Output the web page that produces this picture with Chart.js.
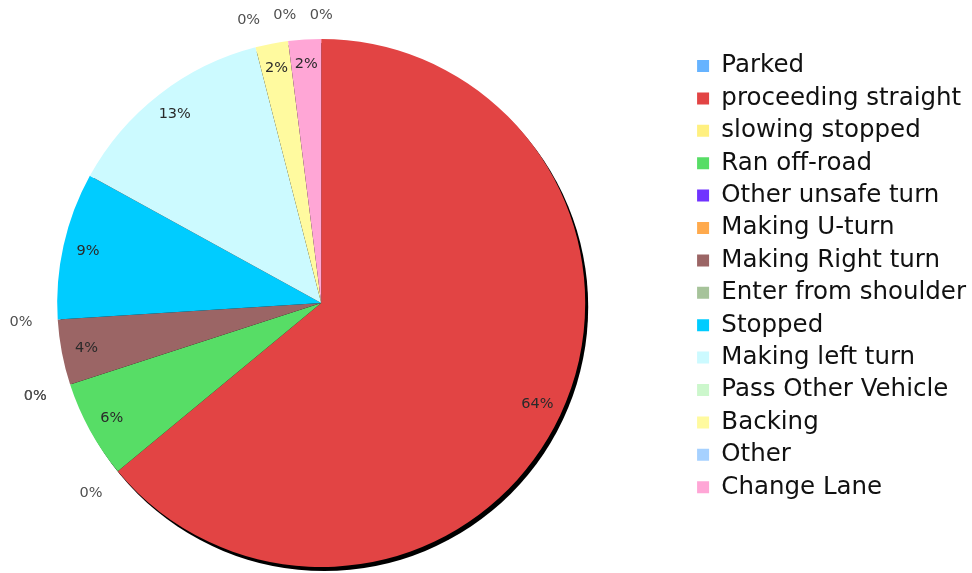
<!DOCTYPE html>
<html>
<head>
<meta charset="utf-8">
<script src="https://cdn.jsdelivr.net/npm/chart.js@4"></script>
<style>
  html, body { margin: 0; padding: 0; background: #fff; }
  #wrap { width: 972px; height: 573px; position: relative; }
</style>
</head>
<body>
<div id="wrap"><canvas id="pieCanvas"></canvas></div>
<script>
// categories in legend order (pie runs clockwise from 12 o'clock)
const categories = [
  'Parked', 'proceeding straight', 'slowing stopped', 'Ran off-road',
  'Other unsafe turn', 'Making U-turn', 'Making Right turn', 'Enter from shoulder',
  'Stopped', 'Making left turn', 'Pass Other Vehicle', 'Backing', 'Other', 'Change Lane'
];
const shares = [0, 64, 0, 6, 0, 0, 4, 0, 9, 13, 0, 2, 0, 2];
const sliceColors = [
  '#66b3ff', '#e24444', '#fff080', '#57dd66',
  '#7033ff', '#ffaa4d', '#9b6565', '#a6c39a',
  '#00ccff', '#ccfaff', '#ccf7cc', '#fffa9f', '#a6d1ff', '#ffa6d6'
];

const FONT = 'DejaVu Sans, Verdana, sans-serif';

// Dark drop shadow behind the pie (offset down/right)
const pieShadow = {
  id: 'pieShadow',
  beforeDatasetsDraw(chart) {
    const arc = chart.getDatasetMeta(0).data[0];
    if (!arc) return;
    const { x, y, outerRadius } = arc.getProps(['x', 'y', 'outerRadius'], true);
    const ctx = chart.ctx;
    ctx.save();
    ctx.fillStyle = '#000';
    ctx.beginPath();
    ctx.arc(x + 3, y + 4, outerRadius, 0, Math.PI * 2);
    ctx.fill();
    ctx.restore();
  }
};

// Percent labels: inside for real slices, outside for empty ones
const sliceLabels = {
  id: 'sliceLabels',
  afterDatasetsDraw(chart) {
    const ctx = chart.ctx;
    const meta = chart.getDatasetMeta(0);
    ctx.save();
    ctx.font = '14.5px ' + FONT;
    ctx.textAlign = 'center';
    ctx.textBaseline = 'middle';
    meta.data.forEach((arc, i) => {
      const { x, y, startAngle, endAngle, outerRadius } =
        arc.getProps(['x', 'y', 'startAngle', 'endAngle', 'outerRadius'], true);
      const mid = (startAngle + endAngle) / 2;
      const cos = Math.cos(mid), sin = Math.sin(mid);
      const text = shares[i] + '%';
      let d;
      if (shares[i] > 0) {
        d = outerRadius * 0.905;
        ctx.fillStyle = '#2a2a2a';
      } else {
        const w = ctx.measureText(text).width;
        d = outerRadius + 21 + Math.abs(cos) * (w / 2 + 4) + Math.abs(sin) * 3;
        ctx.fillStyle = '#505050';
      }
      ctx.fillText(text, x + cos * d, y + sin * d);
    });
    ctx.restore();
  }
};

new Chart(document.getElementById('pieCanvas'), {
  type: 'pie',
  data: {
    labels: categories,
    datasets: [{
      data: shares,
      backgroundColor: sliceColors,
      borderWidth: 0,
      radius: 264
    }]
  },
  options: {
    responsive: true,
    maintainAspectRatio: false,
    animation: false,
    events: [],
    layout: { padding: { top: 45.85, bottom: 12.85, left: 0, right: -4 } },
    plugins: {
      tooltip: { enabled: false },
      // empty title used as a spacer between pie and legend
      title: {
        display: true,
        text: '',
        position: 'right',
        weight: 500,
        padding: { top: 16.2, bottom: 16.2 }
      },
      legend: {
        position: 'right',
        align: 'start',
        maxWidth: 320,
        labels: {
          boxWidth: 12,
          boxHeight: 12,
          padding: 7.9,
          color: '#111',
          font: { family: FONT, size: 24.5 }
        }
      }
    }
  },
  plugins: [pieShadow, sliceLabels]
});
</script>
</body>
</html>
